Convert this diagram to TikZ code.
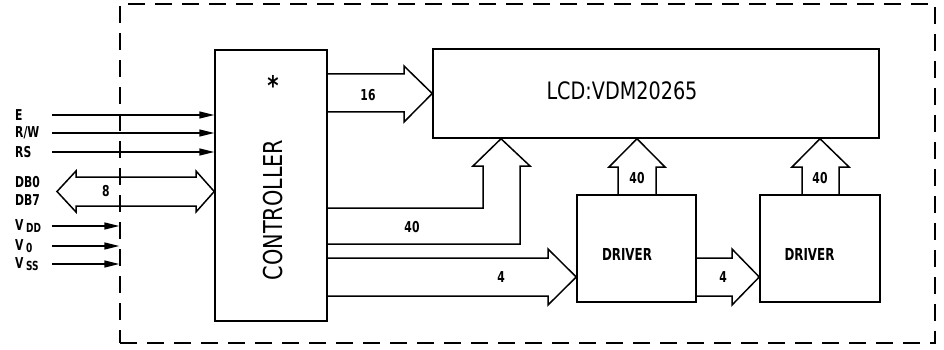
\documentclass[tikz,border=0pt]{standalone}
\usepackage{fontspec}
\setmainfont{DejaVu Sans}[FakeStretch=0.8]
\newfontfamily\labelfont{DejaVu Sans}[FakeStretch=0.72]
\usetikzlibrary{arrows.meta, positioning, calc}

\tikzset{
  blockbox/.style={draw, line width=1.5pt, inner sep=0pt},
  busarrow/.style={draw, line width=1.5pt, line join=miter},
  sigline/.style={line width=1.5pt, -{Triangle[length=15pt,width=7pt]}},
  siglabel/.style={anchor=west, inner sep=0pt, font=\labelfont\fontsize{15}{16}\selectfont\bfseries},
  buslabel/.style={inner sep=0pt, font=\labelfont\fontsize{15}{16}\selectfont\bfseries},
  drvlabel/.style={inner sep=0pt, font=\labelfont\fontsize{16.5}{18}\selectfont\bfseries},
}

\begin{document}
\begin{tikzpicture}[x=1pt, y=-1pt]
  \useasboundingbox (0,0) rectangle (944,350);

  % Board outline
  \node[draw, dash pattern=on 17pt off 10pt, line width=1.5pt, minimum width=815pt, minimum height=339pt, inner sep=0pt] (board) at (527.5,173.5) {};

  % Controller
  \node[blockbox, minimum width=112pt, minimum height=271pt] (ctrl) at (271,185.5) {};
  \node[rotate=90, inner sep=0pt, font=\fontsize{26}{28}\selectfont] (ctrltext) at (273,210) {CONTROLLER};
  \node[inner sep=0pt, font=\fontsize{27}{27}\selectfont\bfseries] (star) at (273,85) {*};

  % LCD
  \node[blockbox, minimum width=446pt, minimum height=89pt] (lcd) at (656,93.5) {};
  \node[inner sep=0pt, font=\fontsize{24}{26}\selectfont] (lcdtext) at (622,91) {LCD:VDM20265};

  % Drivers
  \node[blockbox, minimum width=119pt, minimum height=107pt] (drv1) at (636.5,248.5) {};
  \node[drvlabel] (drv1text) at (627,254) {DRIVER};
  \node[blockbox, minimum width=120pt, minimum height=107pt] (drv2) at (820,248.5) {};
  \node[drvlabel] (drv2text) at (809.5,254) {DRIVER};

  % 16 bus to LCD
  \draw[busarrow] (ctrl.east |- 0,74) -- (404,74) -- (404,66) -- (lcd.west) -- (404,122) -- (404,112) -- (ctrl.east |- 0,112);
  \node[buslabel] (bus16) at (368,95) {16};

  % 40 bus bent up into LCD
  \draw[busarrow] (ctrl.east |- 0,208) -- (483,208) -- (483,166) -- (473,166) -- (lcd.south -| 501,0) -- (530,166) -- (520,166) -- (520,244) -- (ctrl.east |- 0,244);
  \node[buslabel] (bus40) at (412,227) {40};

  % 4 bus to first driver
  \draw[busarrow] (ctrl.east |- 0,258) -- (548,258) -- (548,249) -- (drv1.west |- 0,277) -- (548,305) -- (548,296) -- (ctrl.east |- 0,296);
  \node[buslabel] (bus4a) at (501,277) {4};

  % 4 bus between drivers
  \draw[busarrow] (drv1.east |- 0,258) -- (732,258) -- (732,249) -- (drv2.west |- 0,277) -- (732,305) -- (732,296) -- (drv1.east |- 0,296);
  \node[buslabel] (bus4b) at (723,277) {4};

  % 40 buses from drivers to LCD
  \draw[busarrow] (drv1.north -| 618,0) -- (618,167) -- (609,167) -- (lcd.south -| 637,0) -- (665,167) -- (656,167) -- (drv1.north -| 656,0);
  \node[buslabel] (bus40a) at (637,178) {40};
  \draw[busarrow] (drv2.north -| 802,0) -- (802,167) -- (792,167) -- (lcd.south -| 820,0) -- (849,167) -- (839,167) -- (drv2.north -| 839,0);
  \node[buslabel] (bus40b) at (820,178) {40};

  % Data bus
  \coordinate (dbend) at (57,191.5);
  \draw[busarrow] (dbend) -- (76,171) -- (76,177) -- (196,177) -- (196,171) -- (ctrl.west |- dbend) -- (196,212) -- (196,206) -- (76,206) -- (76,212) -- cycle;
  \node[buslabel] (bus8) at (106,191.5) {8};
  \node[siglabel] (db0) at (15,182) {DB0};
  \node[siglabel] (db7) at (15,200) {DB7};

  % Control signals
  \coordinate (ein) at (52,115);
  \coordinate (rwin) at (52,133);
  \coordinate (rsin) at (52,152);
  \node[siglabel] (elab) at (15,115) {E};
  \node[siglabel] (rwlab) at (15,133) {R/W};
  \node[siglabel] (rslab) at (15,152) {RS};
  \draw[sigline] (ein) -- (ctrl.west |- ein);
  \draw[sigline] (rwin) -- (ctrl.west |- rwin);
  \draw[sigline] (rsin) -- (ctrl.west |- rsin);

  % Supply
  \coordinate (vddin) at (52,226);
  \coordinate (v0in) at (52,246);
  \coordinate (vssin) at (52,264);
  \node[siglabel] (vddlab) at (15,226) {V\,\raisebox{-2pt}{\fontsize{12.5}{13}\selectfont DD}};
  \node[siglabel] (v0lab) at (15,246) {V\,\raisebox{-2pt}{\fontsize{12.5}{13}\selectfont 0}};
  \node[siglabel] (vsslab) at (15,264) {V\,\raisebox{-2pt}{\fontsize{12.5}{13}\selectfont SS}};
  \draw[sigline] (vddin) -- (board.west |- vddin);
  \draw[sigline] (v0in) -- (board.west |- v0in);
  \draw[sigline] (vssin) -- (board.west |- vssin);
\end{tikzpicture}
\end{document}
